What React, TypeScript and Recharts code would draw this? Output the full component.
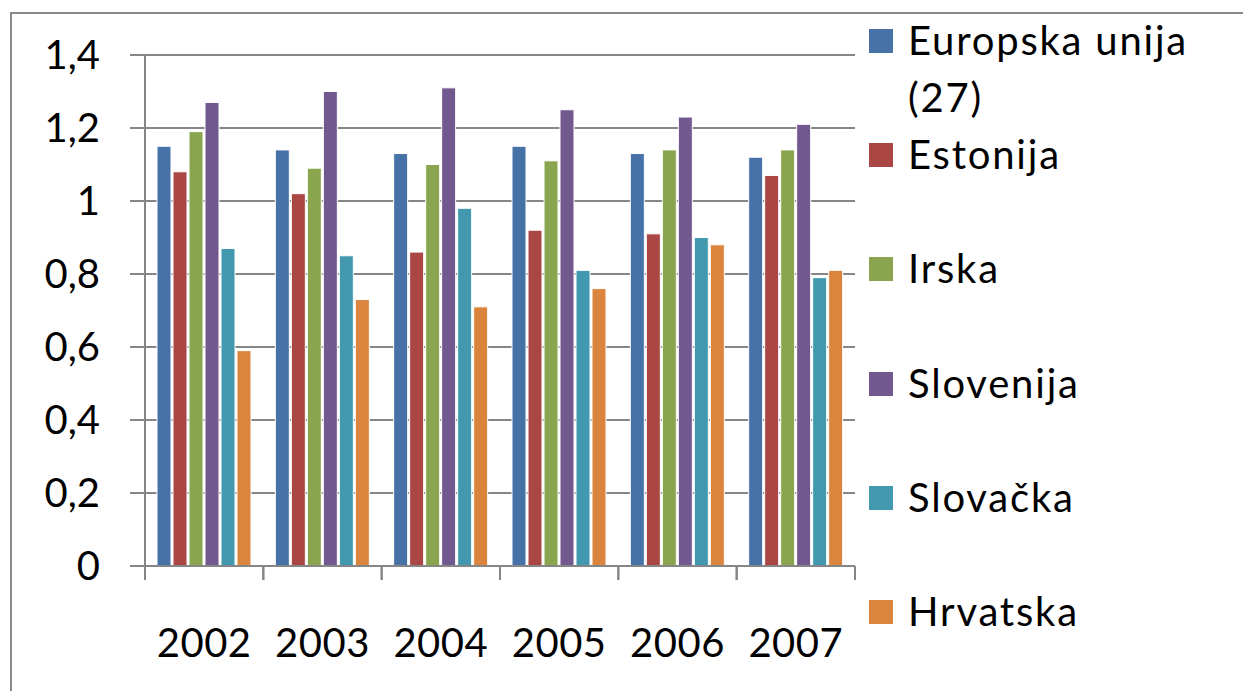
import { Bar, BarChart, CartesianGrid, XAxis, YAxis } from 'recharts'

const years = ['2002', '2003', '2004', '2005', '2006', '2007']
const europskaUnija = [1.15, 1.14, 1.13, 1.15, 1.13, 1.12]
const estonija = [1.08, 1.02, 0.86, 0.92, 0.91, 1.07]
const irska = [1.19, 1.09, 1.1, 1.11, 1.14, 1.14]
const slovenija = [1.27, 1.3, 1.31, 1.25, 1.23, 1.21]
const slovacka = [0.87, 0.85, 0.98, 0.81, 0.9, 0.79]
const hrvatska = [0.59, 0.73, 0.71, 0.76, 0.88, 0.81]

const seriesNames = ['Europska unija (27)', 'Estonija', 'Irska', 'Slovenija', 'Slovačka', 'Hrvatska']
const seriesColors = ['#4672A8', '#AA4643', '#89A54E', '#71588F', '#4198AF', '#DB843D']
const yTicks = [0, 0.2, 0.4, 0.6, 0.8, 1, 1.2, 1.4]

const allSeries = [europskaUnija, estonija, irska, slovenija, slovacka, hrvatska]
const data = years.map((year, i) => {
  const row: Record<string, string | number> = { year }
  allSeries.forEach((s, k) => {
    row[seriesNames[k]] = s[i]
  })
  return row
})

const font = 'Lato, Calibri, sans-serif'
const axisColor = '#868686'

function YearTick(props: any) {
  const { x, y, payload, width } = props
  const half = payload.offset ?? width / years.length / 2
  const axisY = y - 63
  return (
    <g>
      <line x1={x - half} y1={axisY} x2={x - half} y2={axisY + 14} stroke={axisColor} strokeWidth={2} />
      <line x1={x + half} y1={axisY} x2={x + half} y2={axisY + 14} stroke={axisColor} strokeWidth={2} />
      <text x={x} y={y} dy='0.71em' textAnchor='middle' fill='#000' fontSize={40} fontFamily={font} letterSpacing={0.5}>
        {payload.value}
      </text>
    </g>
  )
}

export default function App() {
  return (
    <div style={{ position: 'absolute', left: 0, top: 0, width: 1243, height: 691, background: '#fff', overflow: 'hidden' }}>
      <div
        style={{
          position: 'absolute',
          left: 10,
          top: 12,
          width: 1260,
          height: 720,
          border: '2px solid #8a8a8a',
        }}
      />
      <div style={{ position: 'absolute', left: 0, top: 0 }}>
        <BarChart
          width={1243}
          height={691}
          data={data}
          margin={{ top: 55, right: 388, bottom: 0, left: 0 }}
          barCategoryGap={12}
          barGap={2}
        >
          <CartesianGrid vertical={false} stroke={axisColor} strokeWidth={2} />
          <XAxis
            dataKey='year'
            height={125}
            tickLine={false}
            tickSize={0}
            tickMargin={63}
            axisLine={{ stroke: axisColor, strokeWidth: 2 }}
            tick={<YearTick />}
            interval={0}
          />
          <YAxis
            width={145}
            domain={[0, 1.4]}
            ticks={yTicks}
            tickSize={15}
            tickMargin={30}
            tickLine={{ stroke: axisColor, strokeWidth: 2 }}
            axisLine={{ stroke: axisColor, strokeWidth: 2 }}
            tick={{ fill: '#000', fontSize: 40, fontFamily: font }}
            tickFormatter={(v: number) => String(v).replace('.', ',')}
          />
          {seriesNames.map((name, k) => (
            <Bar
              key={name}
              dataKey={name}
              fill={seriesColors[k]}
              stroke='#ffffff'
              strokeWidth={1}
              isAnimationActive={false}
            />
          ))}
        </BarChart>
      </div>
      {seriesNames.map((name, k) => (
        <div
          key={name}
          style={{
            position: 'absolute',
            left: 869,
            top: 41 + k * 114.2 - 29,
            width: 360,
            display: 'flex',
            alignItems: 'flex-start',
            fontFamily: font,
            fontSize: 40,
            lineHeight: '57px',
            letterSpacing: 1.8,
            color: '#000',
          }}
        >
          <div style={{ width: 24, height: 24, marginTop: 17, background: seriesColors[k], flexShrink: 0 }} />
          <div style={{ marginLeft: 15, width: 320 }}>{name}</div>
        </div>
      ))}
    </div>
  )
}
